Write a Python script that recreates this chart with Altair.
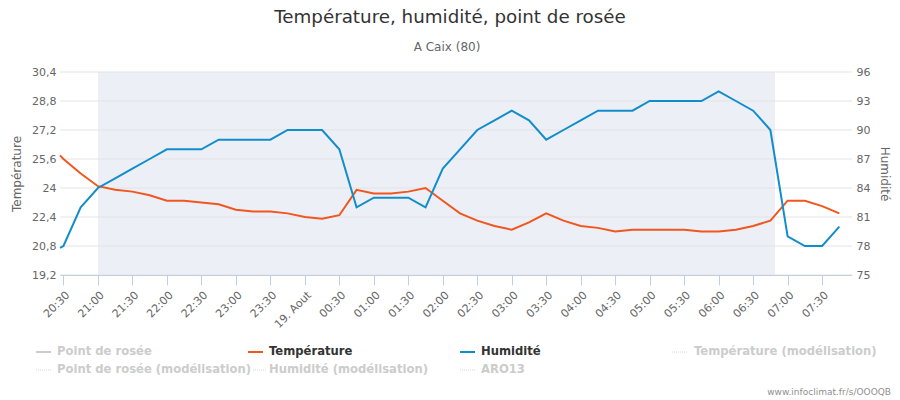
import altair as alt
import pandas as pd

# ---------------- data ----------------
times = ["20:27", "20:30", "20:45",
         "21:00", "21:15", "21:30", "21:45",
         "22:00", "22:15", "22:30", "22:45",
         "23:00", "23:15", "23:30", "23:45",
         "00:00", "00:15", "00:30", "00:45",
         "01:00", "01:15", "01:30", "01:45",
         "02:00", "02:15", "02:30", "02:45",
         "03:00", "03:15", "03:30", "03:45",
         "04:00", "04:15", "04:30", "04:45",
         "05:00", "05:15", "05:30", "05:45",
         "06:00", "06:15", "06:30", "06:45",
         "07:00", "07:15", "07:30", "07:45"]

temperature = [25.8, 25.6, 24.8,
               24.1, 23.9, 23.8, 23.6,
               23.3, 23.3, 23.2, 23.1,
               22.8, 22.7, 22.7, 22.6,
               22.4, 22.3, 22.5, 23.9,
               23.7, 23.7, 23.8, 24.0,
               23.3, 22.6, 22.2, 21.9,
               21.7, 22.1, 22.6, 22.2,
               21.9, 21.8, 21.6, 21.7,
               21.7, 21.7, 21.7, 21.6,
               21.6, 21.7, 21.9, 22.2,
               23.3, 23.3, 23.0, 22.6]

humidity = [77.8, 78, 82,
            84, 85, 86, 87,
            88, 88, 88, 89,
            89, 89, 89, 90,
            90, 90, 88, 82,
            83, 83, 83, 82,
            86, 88, 90, 91,
            92, 91, 89, 90,
            91, 92, 92, 92,
            93, 93, 93, 93,
            94, 93, 92, 90,
            79, 78, 78, 80]

night_start = "21:00"
night_end = "06:49"
axis_start = "20:27"
axis_end = "07:56"

temp_ticks = [19.2, 20.8, 22.4, 24, 25.6, 27.2, 28.8, 30.4]
hum_ticks = [75, 78, 81, 84, 87, 90, 93, 96]
x_tick_times = ["20:30", "21:00", "21:30", "22:00", "22:30", "23:00", "23:30",
                "00:00", "00:30", "01:00", "01:30", "02:00", "02:30", "03:00",
                "03:30", "04:00", "04:30", "05:00", "05:30", "06:00", "06:30",
                "07:00", "07:30"]

legend_items = ["Point de rosée", "Température", "Humidité",
                "Température (modélisation)", "Point de rosée (modélisation)",
                "Humidité (modélisation)", "ARO13"]

# ---------------- helpers ----------------
def day_of(hm):
    h = int(hm.split(":")[0])
    return 18 if h >= 12 else 19

def iso(hm):
    return f"2024-08-{day_of(hm):02d}T{hm}:00"

def dt(hm):
    h, m = map(int, hm.split(":"))
    return alt.DateTime(year=2024, month=8, date=day_of(hm), hours=h, minutes=m)

ORANGE = "#F0561E"
BLUE = "#128DCB"
GREY_TXT = "#666666"
FONT = "DejaVu Sans"
PL, PT = 60, 72  # plot origin in the page

df = pd.DataFrame({"time": [iso(t) for t in times],
                   "temp": temperature, "hum": humidity})
band_df = pd.DataFrame({"start": [iso(night_start)], "end": [iso(night_end)]})
grid_df = pd.DataFrame({"v": temp_ticks})

xscale = alt.Scale(domain=[dt(axis_start), dt(axis_end)])
xaxis = alt.Axis(
    values=[dt(t) for t in x_tick_times],
    labelExpr="hours(datum.value)===0 && minutes(datum.value)===0 ? '19. Aout' : timeFormat(datum.value, '%H:%M')",
    labelAngle=-45, labelFontSize=11, labelColor=GREY_TXT, labelFont=FONT,
    labelOverlap=False, labelFlush=False, labelPadding=4,
    tickSize=10, tickColor="#C0D0E0", domainColor="#C0D0E0",
    grid=False, title=None, zindex=1,
)
tscale = alt.Scale(domain=[19.2, 30.4], nice=False, zero=False)
hscale = alt.Scale(domain=[75, 96], nice=False, zero=False)

left_axis = alt.Axis(
    orient="left", values=temp_ticks,
    labelExpr="replace(toString(datum.value), '.', ',')",
    labelFontSize=11, labelColor=GREY_TXT, labelFont=FONT, labelPadding=4,
    ticks=False, domain=False, grid=False,
    title="Température", titleFontSize=12, titleColor=GREY_TXT,
    titleFont=FONT, titleFontWeight="normal", titlePadding=8)

band = alt.Chart(band_df).mark_rect(color="#ECEFF6").encode(
    x=alt.X("start:T", scale=xscale, axis=xaxis), x2="end:T")

grid = alt.Chart(grid_df).mark_rule(color="#E3E3E3", strokeWidth=1).encode(
    y=alt.Y("v:Q", scale=tscale, axis=left_axis, title="Température"))

temp_line = alt.Chart(df).mark_line(color=ORANGE, strokeWidth=2).encode(
    x=alt.X("time:T", scale=xscale, axis=xaxis),
    y=alt.Y("temp:Q", scale=tscale, axis=left_axis, title="Température"))

hum_line = alt.Chart(df).mark_line(color=BLUE, strokeWidth=2).encode(
    x=alt.X("time:T", scale=xscale, axis=xaxis),
    y=alt.Y("hum:Q", scale=hscale, axis=alt.Axis(
        orient="right", values=hum_ticks,
        labelFontSize=11, labelColor=GREY_TXT, labelFont=FONT, labelPadding=4,
        ticks=False, domain=False, grid=False,
        title="Humidité", titleFontSize=12, titleColor=GREY_TXT,
        titleFont=FONT, titleFontWeight="normal", titlePadding=8)))

# ---------------- text elements (page coordinates -> plot coordinates) ----------------
extra = []

def text_layer(txt, x, y, size, color, weight="normal", align="left"):
    return alt.Chart(pd.DataFrame({"t": [txt]})).mark_text(
        align=align, baseline="middle", font=FONT, fontSize=size,
        fontWeight=weight, color=color).encode(
        x=alt.value(x - PL), y=alt.value(y - PT), text="t:N")

def symbol_layer(x1, x2, y, color, width, dash=None):
    kw = dict(color=color, strokeWidth=width)
    if dash:
        kw["strokeDash"] = dash
    return alt.Chart(pd.DataFrame({"k": [0]})).mark_rule(**kw).encode(
        x=alt.value(x1 - PL), x2=alt.value(x2 - PL), y=alt.value(y - PT))

extra.append(text_layer("Température, humidité, point de rosée", 450, 18, 18.3,
                        "#333333", align="center"))
extra.append(text_layer("A Caix (80)", 447, 47, 12, GREY_TXT, align="center"))

INACTIVE = "#CCCCCC"
legend_spec = [
    # label, symbol x1, x2, text x, y, color, active, dotted
    (legend_items[0], 36, 51, 57, 352, INACTIVE, False, False),
    (legend_items[1], 248, 263, 269, 352, ORANGE, True, False),
    (legend_items[2], 460, 475, 481, 352, BLUE, True, False),
    (legend_items[3], 672, 687, 694, 352, INACTIVE, False, True),
    (legend_items[4], 36, 51, 57, 370, INACTIVE, False, True),
    (legend_items[5], 253, 266, 269, 370, INACTIVE, False, True),
    (legend_items[6], 460, 475, 481, 370, INACTIVE, False, True),
]
for label, x1, x2, tx, y, col, active, dotted in legend_spec:
    if dotted:
        extra.append(symbol_layer(x1, x2, y, "#D8D8D8", 1, [1, 1]))
    else:
        extra.append(symbol_layer(x1, x2, y, col, 2))
    extra.append(text_layer(label, tx, y, 11.6, "#333333" if active else INACTIVE, "bold"))

extra.append(text_layer("www.infoclimat.fr/s/OOOQB", 891, 392, 9, "#909090", align="right"))

chart = alt.layer(
    band, alt.layer(grid, temp_line), hum_line, *extra
).resolve_scale(y="independent").properties(
    width=792, height=203,
    autosize=alt.AutoSizeParams(type="none"),
    padding={"left": PL, "top": PT, "right": 48, "bottom": 125},
    background="white",
).configure_view(stroke=None)

chart.save("out.html", embed_options={"renderer": "svg", "actions": False})
